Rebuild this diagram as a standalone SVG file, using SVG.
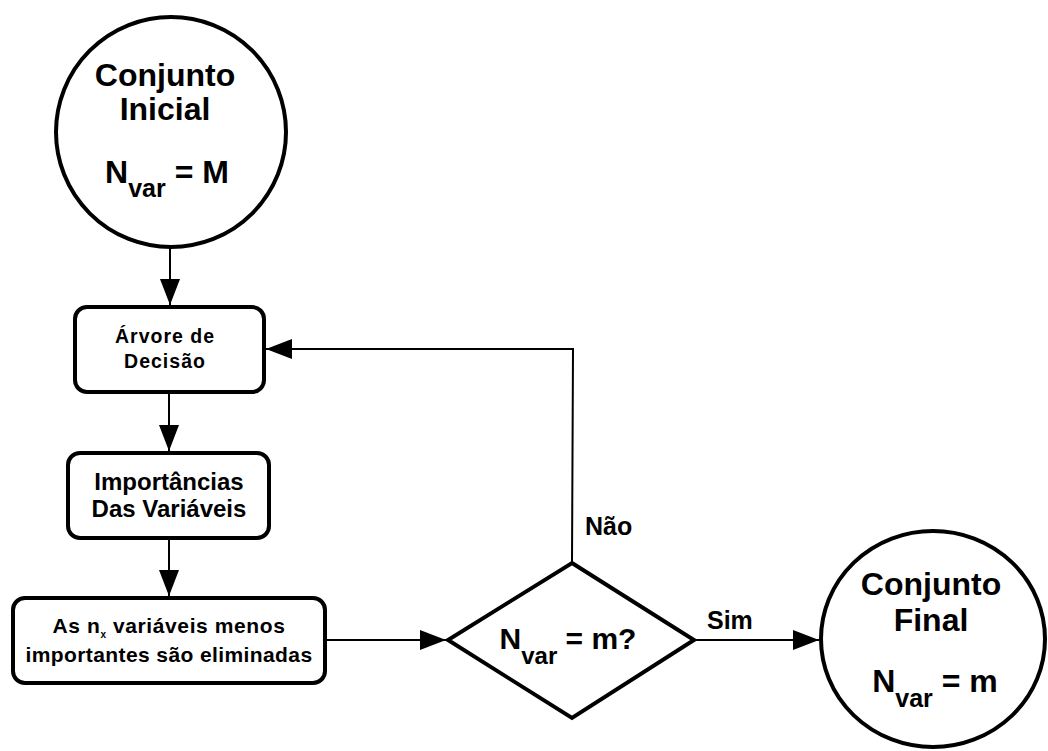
<svg xmlns="http://www.w3.org/2000/svg" width="1048" height="751" viewBox="0 0 1048 751">
<style>
.shape{fill:#fff;stroke:#000;stroke-width:4}
.conn{fill:none;stroke:#000;stroke-width:2}
text{font-family:"Liberation Sans",Arial,sans-serif;font-weight:bold;fill:#000}
.big{font-size:32px}
.mid{font-size:24px}
.lbl{font-size:25px}
</style>
<defs>
<marker id="ah" viewBox="0 0 26 20" refX="26" refY="10" markerWidth="26" markerHeight="20" markerUnits="userSpaceOnUse" orient="auto">
<path d="M0,0 L26,10 L0,20 Z" fill="#000"/>
</marker>
</defs>
<rect width="1048" height="751" fill="#fff"/>
<g id="connectors">
<line class="conn" x1="170" y1="248" x2="170" y2="305" marker-end="url(#ah)"/>
<line class="conn" x1="169" y1="393" x2="169" y2="451" marker-end="url(#ah)"/>
<line class="conn" x1="169" y1="539" x2="169" y2="596" marker-end="url(#ah)"/>
<line class="conn" x1="326" y1="640" x2="446" y2="640" marker-end="url(#ah)"/>
<polyline class="conn" points="572,563 573,349 266,349" marker-end="url(#ah)"/>
<line class="conn" x1="694" y1="640" x2="819" y2="640" marker-end="url(#ah)"/>
<text class="lbl" x="585" y="535">Não</text>
<text class="lbl" x="707" y="629">Sim</text>
</g>
<g id="conjunto-inicial">
<circle class="shape" cx="171" cy="132" r="115"/>
<text class="big" x="165" y="86" text-anchor="middle">Conjunto</text>
<text class="big" x="165" y="120" text-anchor="middle">Inicial</text>
<text class="big" x="167" y="183" text-anchor="middle">N<tspan font-size="25" dy="14">var</tspan><tspan dy="-14"> = M</tspan></text>
</g>
<g id="arvore">
<rect class="shape" x="75" y="307" width="189" height="85" rx="12"/>
<text x="165" y="343" text-anchor="middle" font-size="19.5" letter-spacing="1">Árvore de</text>
<text x="165" y="368" text-anchor="middle" font-size="19.5" letter-spacing="1">Decisão</text>
</g>
<g id="importancias">
<rect class="shape" x="68" y="453" width="201" height="85" rx="12"/>
<text class="mid" x="169" y="490" text-anchor="middle">Importâncias</text>
<text class="mid" x="169" y="517" text-anchor="middle">Das Variáveis</text>
</g>
<g id="eliminadas">
<rect class="shape" x="13" y="598" width="312" height="85" rx="12"/>
<text x="169" y="633" text-anchor="middle" font-size="21" letter-spacing="0.6">As n<tspan font-size="10" dy="5">x</tspan><tspan dy="-5"> variáveis menos</tspan></text>
<text x="169" y="662" text-anchor="middle" font-size="21" letter-spacing="0.4">importantes são eliminadas</text>
</g>
<g id="decisao">
<polygon class="shape" points="572,563 694,640 572,718 448,640"/>
<text x="568" y="649" text-anchor="middle" font-size="30">N<tspan font-size="24" dy="15">var</tspan><tspan dy="-15"> = m?</tspan></text>
</g>
<g id="conjunto-final">
<ellipse class="shape" cx="933" cy="639" rx="112" ry="108"/>
<text class="big" x="931" y="595" text-anchor="middle">Conjunto</text>
<text class="big" x="931" y="631" text-anchor="middle">Final</text>
<text class="big" x="935" y="692" text-anchor="middle">N<tspan font-size="25" dy="15">var</tspan><tspan dy="-15"> = m</tspan></text>
</g>
</svg>
